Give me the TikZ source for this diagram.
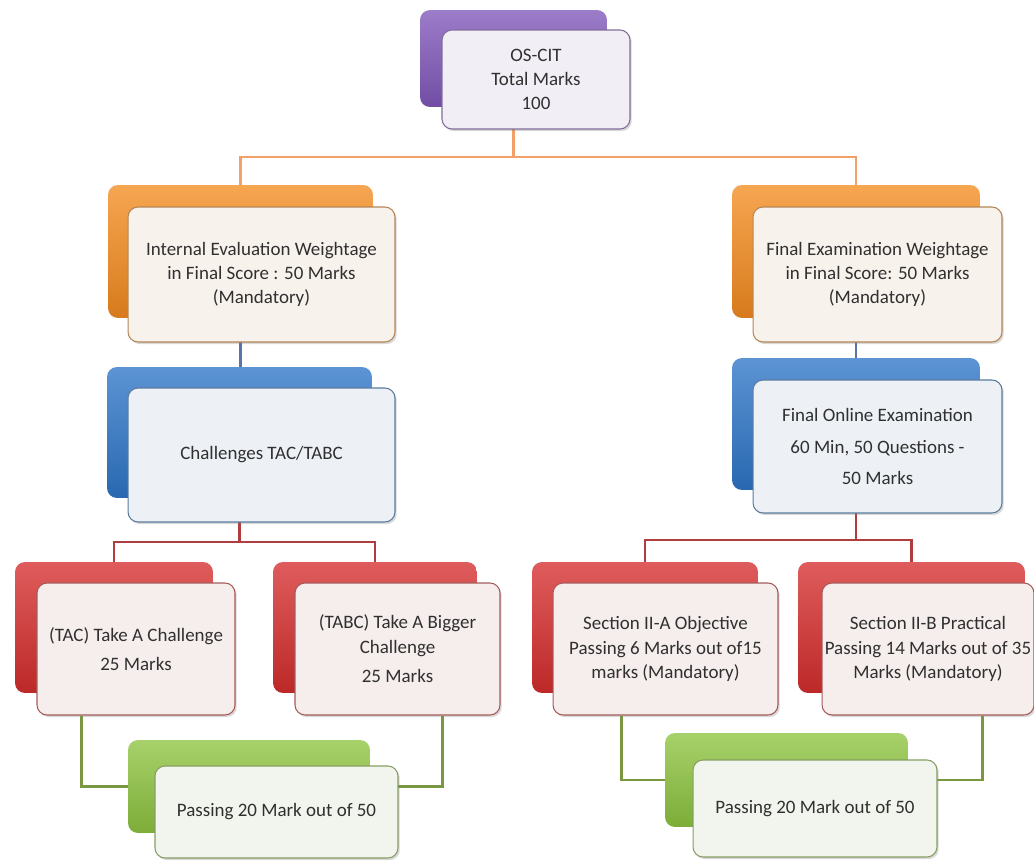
\documentclass[tikz,border=0pt]{standalone}
\usepackage{fontspec}
\setmainfont{Carlito}
\usetikzlibrary{shadows,backgrounds}

\definecolor{purp}{RGB}{128,88,186}
\definecolor{oran}{RGB}{244,140,32}
\definecolor{blu}{RGB}{46,118,200}
\definecolor{rd}{RGB}{214,46,46}
\definecolor{grn}{RGB}{142,196,64}
\definecolor{olink}{RGB}{242,160,104}
\definecolor{blink}{RGB}{88,116,168}
\definecolor{rlink}{RGB}{176,62,62}
\definecolor{glink}{RGB}{122,152,66}
\definecolor{txt}{RGB}{48,48,48}

\begin{document}
\begin{tikzpicture}[x=0.02cm,y=-0.02cm,
    back/.style={rounded corners=0.2cm,inner sep=0pt,top color=#1!78!white,bottom color=#1!88!black,draw=none},
    front/.style={rounded corners=0.2cm,inner sep=0pt,draw=#1!45!gray,line width=0.6pt,fill=#1!6!white!95!gray,
        align=center,text=txt,font=\fontsize{10.8}{13.8}\selectfont,
        drop shadow={shadow xshift=1pt,shadow yshift=-1.2pt,opacity=0.3}},
    link/.style={line width=1.2pt}]

            \useasboundingbox (0,0) rectangle (1034,861);

            \node[back=purp, minimum width=3.74cm, minimum height=1.94cm] (totalb) at (513.5,58.5) {};
            \node[front=purp, minimum width=3.76cm, minimum height=1.98cm] (total) at (536,79.5) {OS-CIT\\Total Marks\\100};

            \node[back=oran, minimum width=5.3cm, minimum height=2.66cm] (evalb) at (240.5,251.5) {};
            \node[front=oran, minimum width=5.34cm, minimum height=2.7cm] (eval) at (261.5,274.5) {Internal Evaluation Weightage\\in Final Score : 50 Marks\\(Mandatory)};
            \node[back=oran, minimum width=4.96cm, minimum height=2.66cm] (examb) at (856,251.5) {};
            \node[front=oran, minimum width=4.98cm, minimum height=2.7cm] (exam) at (877.5,274.5) {Final Examination Weightage\\in Final Score: 50 Marks\\(Mandatory)};

            \node[back=blu, minimum width=5.3cm, minimum height=2.62cm] (chalb) at (239.5,432.5) {};
            \node[front=blu, minimum width=5.34cm, minimum height=2.68cm] (chal) at (261.5,455) {Challenges TAC/TABC};
            \node[back=blu, minimum width=4.96cm, minimum height=2.64cm] (onlineb) at (856,424) {};
            \node[front=blu, minimum width=4.98cm, minimum height=2.66cm] (online) at (877.5,446.5) {Final Online Examination\\[4pt]60 Min, 50 Questions -\\[4pt]50 Marks};

            \node[back=rd, minimum width=3.96cm, minimum height=2.62cm] (tacb) at (114,627.5) {};
            \node[front=rd, minimum width=3.96cm, minimum height=2.64cm] (tac) at (136,649) {(TAC) Take A Challenge\\[3pt]25 Marks};
            \node[back=rd, minimum width=4.08cm, minimum height=2.62cm] (tabcb) at (375,627.5) {};
            \node[front=rd, minimum width=4.1cm, minimum height=2.64cm] (tabc) at (397.5,649) {(TABC) Take A Bigger\\Challenge\\[3pt]25 Marks};
            \node[back=rd, minimum width=4.52cm, minimum height=2.62cm] (secab) at (645,627.5) {};
            \node[front=rd, minimum width=4.5cm, minimum height=2.64cm] (seca) at (665.5,649) {Section II-A Objective\\Passing 6 Marks out of15\\marks (Mandatory)};
            \node[back=rd, minimum width=4.54cm, minimum height=2.62cm] (secbb) at (911.5,627.5) {};
            \node[front=rd, minimum width=4.24cm, minimum height=2.64cm] (secb) at (928,649) {Section II-B Practical\\Passing 14 Marks out of 35\\Marks (Mandatory)};

            \node[back=grn, minimum width=4.84cm, minimum height=1.86cm] (passlb) at (249,786.5) {};
            \node[front=grn, minimum width=4.86cm, minimum height=1.84cm] (passl) at (276.5,812) {Passing 20 Mark out of 50};
            \node[back=grn, minimum width=4.86cm, minimum height=1.88cm] (passrb) at (786.5,780) {};
            \node[front=grn, minimum width=4.88cm, minimum height=1.94cm] (passr) at (815,808.5) {Passing 20 Mark out of 50};

            % connectors behind the boxes
            \begin{scope}[on background layer]
            \draw[link, draw=olink] (totalb.center) -- ++(0,98.5) -| (evalb.north);
            \draw[link, draw=olink] (totalb.center) -- ++(0,98.5) -| (examb.north);

            \draw[link, draw=blink] (evalb.center) -- (evalb.center |- chalb.north);
            \draw[link, draw=blink] (examb.center) -- (examb.center |- onlineb.north);

            \draw[link, draw=rlink] (chalb.center) -- ++(0,109.5) -| (tacb.north);
            \draw[link, draw=rlink] (chalb.center) -- ++(0,109.5) -| (tabcb.north);
            \draw[link, draw=rlink] (onlineb.center) -- ++(0,116) -| (secab.north);
            \draw[link, draw=rlink] (onlineb.center) -- ++(0,116) -| (secbb.north);

            \draw[link, draw=glink] ([xshift=0.9cm]tac.south west) |- (passlb.center) -| ([xshift=-1.16cm]tabc.south east);
            \draw[link, draw=glink] ([xshift=1.38cm]seca.south west) |- (passrb.center) -| ([xshift=-1.04cm]secb.south east);
            \end{scope}

        \end{tikzpicture}
\end{document}
